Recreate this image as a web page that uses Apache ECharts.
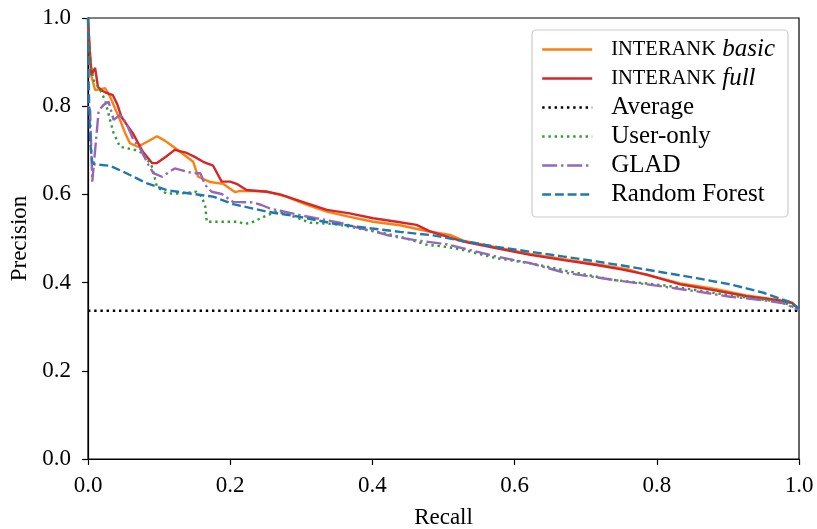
<!DOCTYPE html>
<html>
<head>
<meta charset="utf-8">
<script src="https://cdn.jsdelivr.net/npm/echarts@6/dist/echarts.min.js"></script>
<style>html,body{margin:0;padding:0;background:#fff}#c{width:817px;height:529px}</style>
</head>
<body>
<div id="c"></div>
<script>
const xTicks = [0.0, 0.2, 0.4, 0.6, 0.8, 1.0];
const yTicks = [0.0, 0.2, 0.4, 0.6, 0.8, 1.0];
const seriesNames = ['INTERANK basic', 'INTERANK full', 'Average', 'User-only', 'GLAD', 'Random Forest'];

const basicRecall = [0, 0.002, 0.005, 0.01, 0.017, 0.024, 0.031, 0.038, 0.045, 0.052, 0.059, 0.07, 0.084, 0.097, 0.108, 0.12, 0.135, 0.148, 0.155, 0.172, 0.19, 0.207, 0.214, 0.251, 0.279, 0.307, 0.336, 0.368, 0.401, 0.439, 0.476, 0.509, 0.528, 0.575, 0.622, 0.669, 0.715, 0.76, 0.78, 0.833, 0.88, 0.926, 0.969, 0.99, 1.0];
const basicPrecision = [1.0, 0.93, 0.867, 0.837, 0.838, 0.841, 0.822, 0.795, 0.769, 0.74, 0.716, 0.708, 0.72, 0.732, 0.722, 0.708, 0.69, 0.674, 0.64, 0.628, 0.624, 0.605, 0.608, 0.607, 0.595, 0.577, 0.561, 0.549, 0.538, 0.53, 0.517, 0.508, 0.495, 0.48, 0.465, 0.453, 0.442, 0.43, 0.42, 0.398, 0.386, 0.371, 0.361, 0.355, 0.338];

const fullRecall = [0, 0.002, 0.005, 0.007, 0.01, 0.014, 0.02, 0.026, 0.035, 0.041, 0.047, 0.055, 0.063, 0.077, 0.09, 0.097, 0.11, 0.122, 0.139, 0.15, 0.162, 0.176, 0.188, 0.2, 0.209, 0.223, 0.251, 0.27, 0.307, 0.336, 0.368, 0.401, 0.434, 0.462, 0.481, 0.507, 0.528, 0.575, 0.622, 0.669, 0.715, 0.75, 0.786, 0.833, 0.88, 0.926, 0.969, 0.99, 1.0];
const fullPrecision = [1.0, 0.94, 0.87, 0.878, 0.887, 0.844, 0.835, 0.83, 0.825, 0.805, 0.776, 0.757, 0.739, 0.697, 0.671, 0.671, 0.686, 0.701, 0.694, 0.685, 0.674, 0.665, 0.629, 0.629, 0.624, 0.61, 0.606, 0.6, 0.58, 0.565, 0.557, 0.546, 0.538, 0.531, 0.516, 0.503, 0.493, 0.478, 0.463, 0.451, 0.44, 0.43, 0.418, 0.396, 0.383, 0.369, 0.36, 0.354, 0.34];

const averageRecall = [0, 1];
const averagePrecision = [0.336, 0.336];

const userRecall = [0, 0.003, 0.008, 0.017, 0.024, 0.031, 0.036, 0.045, 0.066, 0.078, 0.09, 0.097, 0.11, 0.129, 0.152, 0.16, 0.165, 0.167, 0.2, 0.211, 0.22, 0.23, 0.247, 0.265, 0.284, 0.312, 0.345, 0.368, 0.392, 0.42, 0.448, 0.476, 0.504, 0.528, 0.575, 0.622, 0.678, 0.739, 0.809, 0.856, 0.903, 0.95, 0.978, 1.0];
const userPrecision = [1.0, 0.9, 0.859, 0.837, 0.814, 0.769, 0.739, 0.708, 0.701, 0.693, 0.663, 0.617, 0.602, 0.602, 0.606, 0.595, 0.572, 0.538, 0.538, 0.538, 0.533, 0.536, 0.549, 0.561, 0.553, 0.536, 0.533, 0.527, 0.519, 0.511, 0.5, 0.486, 0.481, 0.474, 0.455, 0.444, 0.425, 0.406, 0.394, 0.383, 0.371, 0.361, 0.356, 0.338];

const gladRecall = [0, 0.003, 0.006, 0.01, 0.015, 0.022, 0.029, 0.036, 0.045, 0.054, 0.064, 0.073, 0.085, 0.092, 0.104, 0.122, 0.148, 0.158, 0.165, 0.174, 0.188, 0.204, 0.232, 0.244, 0.256, 0.27, 0.298, 0.321, 0.354, 0.383, 0.401, 0.42, 0.439, 0.458, 0.476, 0.504, 0.575, 0.622, 0.669, 0.739, 0.809, 0.856, 0.903, 0.95, 0.978, 1.0];
const gladPrecision = [0.8, 0.79, 0.629, 0.70, 0.79, 0.803, 0.81, 0.769, 0.78, 0.761, 0.723, 0.705, 0.667, 0.648, 0.64, 0.659, 0.648, 0.648, 0.621, 0.606, 0.601, 0.583, 0.582, 0.576, 0.568, 0.563, 0.553, 0.546, 0.536, 0.523, 0.517, 0.508, 0.502, 0.497, 0.493, 0.487, 0.459, 0.444, 0.423, 0.406, 0.391, 0.38, 0.368, 0.36, 0.353, 0.338];

const rfRecall = [0, 0.001, 0.003, 0.006, 0.01, 0.031, 0.054, 0.083, 0.11, 0.143, 0.176, 0.204, 0.251, 0.298, 0.345, 0.392, 0.439, 0.486, 0.528, 0.575, 0.622, 0.669, 0.715, 0.762, 0.809, 0.856, 0.903, 0.926, 0.95, 0.973, 0.987, 1.0];
const rfPrecision = [1.0, 0.85, 0.72, 0.672, 0.668, 0.665, 0.648, 0.625, 0.61, 0.602, 0.595, 0.578, 0.561, 0.549, 0.534, 0.524, 0.515, 0.507, 0.494, 0.481, 0.47, 0.459, 0.448, 0.436, 0.423, 0.41, 0.396, 0.387, 0.377, 0.364, 0.356, 0.342];

const FONT = '"Liberation Serif", "DejaVu Serif", serif';
const LW = 2.4;
const zip = (a, b) => a.map((v, i) => [v, b[i]]);

function mkSeries(name, xs, ys, color, type) {
  return {
    name: name, type: 'line', data: zip(xs, ys),
    showSymbol: false, symbol: 'none', animation: false,
    lineStyle: { color: color, width: LW, type: type, cap: 'butt' },
    itemStyle: { color: color }
  };
}

const chart = echarts.init(document.getElementById('c'), null, { renderer: 'canvas' });
chart.setOption({
  backgroundColor: '#fff',
  animation: false,
  grid: { left: 88, right: 18, top: 18, bottom: 70, outerBoundsMode: 'none', containLabel: false, show: true, borderColor: '#000', borderWidth: 1.2, backgroundColor: 'transparent' },
  xAxis: {
    type: 'value', min: xTicks[0], max: xTicks[xTicks.length - 1], interval: 0.2,
    name: 'Recall', nameLocation: 'middle', nameGap: 47,
    nameTextStyle: { fontFamily: FONT, fontSize: 23, color: '#000' },
    axisLine: { show: true, lineStyle: { color: '#000', width: 1.2 } },
    axisTick: { show: true, inside: false, length: 6, lineStyle: { color: '#000', width: 1.2 } },
    splitLine: { show: false },
    axisLabel: { formatter: v => v.toFixed(1), fontFamily: FONT, fontSize: 23, color: '#000', margin: 15 }
  },
  yAxis: {
    type: 'value', min: yTicks[0], max: yTicks[yTicks.length - 1], interval: 0.2,
    name: 'Precision', nameLocation: 'middle', nameGap: 56,
    nameTextStyle: { fontFamily: FONT, fontSize: 23, color: '#000' },
    axisLine: { show: true, lineStyle: { color: '#000', width: 1.2 } },
    axisTick: { show: true, inside: false, length: 6, lineStyle: { color: '#000', width: 1.2 } },
    splitLine: { show: false },
    axisLabel: { formatter: v => v.toFixed(1), fontFamily: FONT, fontSize: 23, color: '#000', margin: 17 }
  },
  legend: {
    orient: 'vertical', left: 532, top: 30,
    data: seriesNames,
    itemWidth: 50, itemHeight: 14, itemGap: 4,
    padding: [7, 13, 10, 9],
    backgroundColor: 'rgba(255,255,255,0.8)',
    borderColor: '#cccccc', borderWidth: 1.2, borderRadius: 4,
    itemStyle: { opacity: 0 },
    lineStyle: { width: LW },
    formatter: function (name) {
      if (name.indexOf('INTERANK') === 0) {
        return '{sc|INTERANK} {it|' + name.split(' ')[1] + '}';
      }
      return '{n|' + name + '}';
    },
    textStyle: {
      fontFamily: FONT, fontSize: 25, color: '#000',
      rich: {
        sc: { fontFamily: FONT, fontSize: 20.5, color: '#000', lineHeight: 24, padding: [0, 0, 0, 14] },
        it: { fontFamily: FONT, fontSize: 25, fontStyle: 'italic', color: '#000', lineHeight: 24 },
        n: { fontFamily: FONT, fontSize: 25, color: '#000', lineHeight: 24, padding: [0, 0, 0, 14] }
      }
    }
  },
  series: [
    mkSeries(seriesNames[0], basicRecall, basicPrecision, '#ff7f0e', 'solid'),
    mkSeries(seriesNames[1], fullRecall, fullPrecision, '#d62728', 'solid'),
    mkSeries(seriesNames[2], averageRecall, averagePrecision, '#000000', [2.4, 3.8]),
    mkSeries(seriesNames[3], userRecall, userPrecision, '#2ca02c', [2.4, 3.8]),
    mkSeries(seriesNames[4], gladRecall, gladPrecision, '#9467bd', [15, 3.8, 2.4, 3.8]),
    mkSeries(seriesNames[5], rfRecall, rfPrecision, '#1f77b4', [8.9, 3.8])
  ]
});
</script>
</body>
</html>
